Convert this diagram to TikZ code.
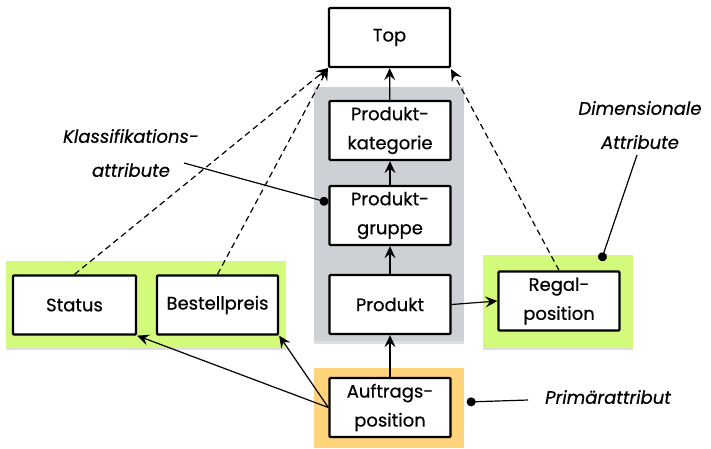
\documentclass[tikz,border=0pt]{standalone}
\usepackage{fontspec}
\setmainfont{Poppins}[FakeBold=0.5]
\usetikzlibrary{arrows.meta,shadows,calc}
\definecolor{bggray}{HTML}{CDD0D4}
\definecolor{bggreen}{HTML}{D4FA7C}
\definecolor{bgorange}{HTML}{FFD37A}
\tikzset{
  entity/.style={draw, line width=2.3pt, fill=white, rounded corners=1pt,
    minimum width=121pt, minimum height=59pt, align=center,
    font=\fontsize{18}{29}\selectfont, inner sep=0pt},
  groupbg/.style={draw=none, drop shadow={opacity=0.25, shadow xshift=0pt, shadow yshift=-3pt}},
  link/.style={line width=1.2pt, -{Stealth[length=12pt, width=11pt, inset=4.5pt]}},
  dashlink/.style={link, dashed, dash pattern=on 6pt off 4pt},
  callout/.style={font=\fontsize{18}{34}\selectfont\itshape, align=center, inner sep=0pt},
  pointer/.style={line width=1.2pt, {Circle[length=9pt]}-},
}
\begin{document}
\begin{tikzpicture}[x=1pt, y=-1pt]
  \useasboundingbox (0,0) rectangle (711,448);

  % group backgrounds
  \fill[bggray, groupbg] (314,87) rectangle (464,341);
  \fill[bggreen, groupbg] (6,261) rectangle (286,347);
  \fill[bggreen, groupbg] (483,255) rectangle (633,347);
  \fill[bgorange] (314,368) rectangle (464,448);

  % hierarchy levels
  \node[entity] (top) at (389.5,37.5) {Top};
  \node[entity] (kat) at (390,130.5) {Produkt-\\kategorie};
  \node[entity] (grp) at (390,215.5) {Produkt-\\gruppe};
  \node[entity] (prod) at (390,304.5) {Produkt};
  \node[entity] (auf) at (390,407.5) {Auftrags-\\position};
  \node[entity, minimum width=123pt] (status) at (74.5,305) {Status};
  \node[entity] (bestell) at (217.5,305) {Bestellpreis};
  \node[entity] (regal) at (559,301) {Regal-\\position};

  % attribute labels
  \node[callout] (klass) at (131,153) {Klassifikations-\\attribute};
  \node[callout] (dim) at (640,125) {Dimensionale\\Attribute};
  \node[callout] (prim) at (608,397) {Primärattribut};

  % roll-up arrows
  \draw[link] (kat) -- (top);
  \draw[link] (grp) -- (kat);
  \draw[link] (prod) -- (grp);
  \draw[link] (auf) -- (prod);
  \draw[link] (prod.east) -- (regal.west);
  \draw[link] (auf.west) -- (status.south east);
  \draw[link] (auf.west) -- (bestell.south east);

  % dashed arrows to Top
  \coordinate (topl) at (328,68);
  \coordinate (topr) at (451,69);
  \draw[dashlink] (status.north) -- (topl);
  \draw[dashlink] (bestell.north) -- (topl);
  \draw[dashlink] (regal.north) -- (topr);

  % label pointers
  \coordinate (klassend) at (184,163);
  \coordinate (dimend) at (637,155);
  \coordinate (primend) at (528,400);
  \draw[pointer] ($(grp.west)+(0,-13)$) -- (klassend);
  \draw[pointer] (601,261) -- (dimend);
  \draw[pointer] ($(auf.east)+(15,-5.5)$) -- (primend);
\end{tikzpicture}
\end{document}
